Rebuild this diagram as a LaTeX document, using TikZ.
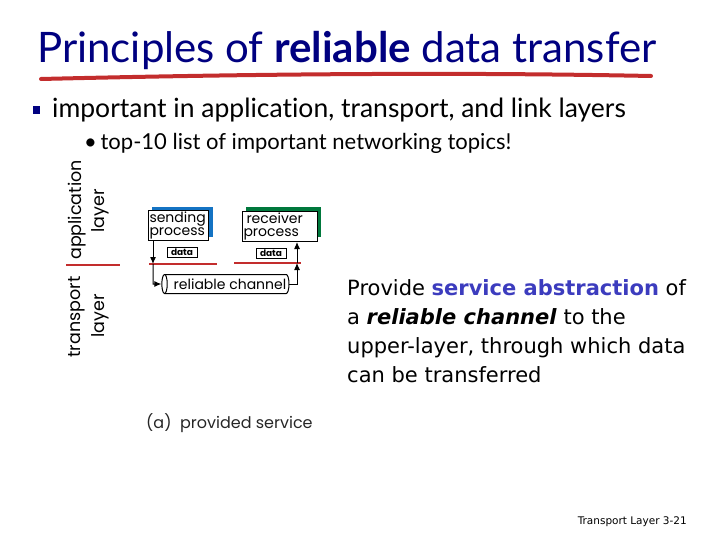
\documentclass[tikz,border=0pt]{standalone}
\usepackage{fontspec}
\setmainfont{Lato}[Ligatures={TeX,NoCommon}]
\newfontfamily\diag{Poppins}
\newfontfamily\verd{DejaVu Sans}
\usetikzlibrary{arrows.meta,shapes.geometric}
\definecolor{navy}{RGB}{0,0,128}
\definecolor{slred}{RGB}{195,45,45}
\definecolor{abst}{RGB}{60,60,190}
\definecolor{shblue}{RGB}{20,115,195}
\definecolor{shgreen}{RGB}{0,120,60}
\begin{document}
\begin{tikzpicture}[x=1pt,y=-1pt,
  proc/.style={draw=black,line width=1pt,fill=white,inner xsep=1pt,inner ysep=0pt,font=\diag\fontsize{14}{13}\selectfont,align=left,text width=58pt,minimum height=30pt,anchor=north west},
  databox/.style={draw=black,line width=1pt,font=\diag\bfseries\fontsize{9}{9}\selectfont,inner sep=0.5pt,minimum width=30pt,minimum height=10pt},
  redline/.style={draw=slred,line width=2.5pt},
  arr/.style={line width=1pt,-{Latex[length=7pt,width=6pt]}},
  vlab/.style={rotate=90,font=\diag\fontsize{17.5}{16}\selectfont,inner sep=0pt}]
\useasboundingbox (0,0) rectangle (720,540);
% title
\node[anchor=base west,inner sep=0pt,text=navy,font=\fontsize{42}{48}\selectfont] (title) at (37,63) {Principles of \textbf{reliable} data transfer};
\draw[slred,line width=4pt,line cap=round] (41,79) .. controls (250,74) and (450,72) .. (651,76);
% bullets
\node[fill=navy,minimum width=7pt,minimum height=8pt,inner sep=0pt] (b1) at (36.5,110) {};
\node[anchor=base west,inner sep=0pt,font=\fontsize{26.5}{30}\selectfont] (t1) at (52,118) {important in application, transport, and link layers};
\node[anchor=base west,inner sep=0pt,font=\fontsize{22}{26}\selectfont] (t2) at (84,150) {\textbullet\,top-10 list of important networking topics!};
% left layer labels
\node[vlab] (app) at (77,210) {application};
\node[vlab] (lay1) at (100,211) {layer};
\node[vlab] (trn) at (77,317) {transport};
\node[vlab] (lay2) at (100,316) {layer};
\draw[redline] (66,265) -- (120,265);
% processes
\fill[shblue] (152,207) rectangle (213,237);
\node[proc] (sp) at (148,210) {sending\\process};
\fill[shgreen] (246,207) rectangle (321,237);
\node[proc,text width=73pt] (rp) at (242,211) {\hspace*{3pt}receiver\\process};
\node[databox] (d1) at (182,252) {data};
\node[databox] (d2) at (271,253) {data};
\draw[redline] (149,264) -- (217,264);
\draw[redline] (234,263) -- (301,263);
% channel
\node[cylinder,shape border rotate=180,draw,line width=1pt,minimum height=127pt,minimum width=19pt,aspect=0.5,inner sep=0pt,font=\diag\fontsize{14}{14}\selectfont] (chan) at (227,284) {\hspace*{6pt}reliable channel};
\coordinate (sa) at (153,264);
\coordinate (sb) at (153,284);
\coordinate (ra) at (297,284);
\coordinate (rb) at (297,263);
\draw[arr] (sp.south -| sa) -- (sa);
\draw[arr] (sa) -- (sb) -- (chan.west);
\draw[arr] (chan.east) -- (ra) -- (rb);
\draw[arr] (rb) -- (rp.south -| rb);
\node[anchor=west,inner sep=0pt,font=\diag\fontsize{16}{16}\selectfont,text=black!85] (cap) at (146,423) {(a)\ \ provided service};
% right text
\node[anchor=north west,inner sep=0pt,align=left,font=\verd\fontsize{21}{29}\selectfont] (desc) at (347,279) {Provide \textbf{\textcolor{abst}{service abstraction}} of\\a \textbf{\textit{reliable channel}} to the\\upper-layer, through which data\\can be transferred};
\node[anchor=base east,inner sep=0pt,font=\verd\fontsize{10.5}{12}\selectfont] (foot) at (687,524) {Transport Layer 3-21};
\end{tikzpicture}
\end{document}
